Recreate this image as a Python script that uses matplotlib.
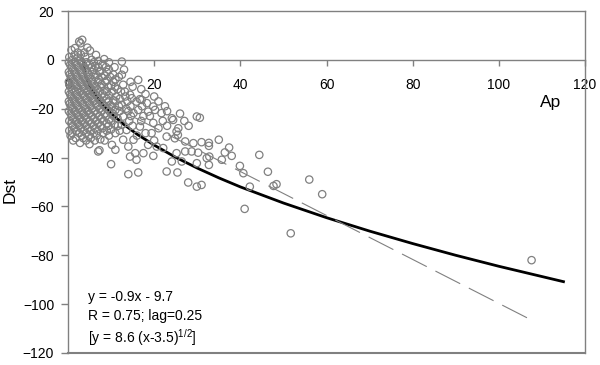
import matplotlib
matplotlib.use('Agg')
import matplotlib.pyplot as plt

plt.rcParams['font.family'] = ['Liberation Sans', 'DejaVu Sans']
plt.rcParams['mathtext.fontset'] = 'custom'
plt.rcParams['mathtext.rm'] = 'Liberation Sans'
plt.rcParams['mathtext.it'] = 'Liberation Sans'
plt.rcParams['lines.scale_dashes'] = False

# Ap / Dst points
points = [
    (3.3, 8.2), (2.6, 7.5), (2.9, 6.8), (1.6, 4.8), (4.5, 5), (5.1, 3.8), (0.8, 4),
    (0.3, 1.1), (1.5, 2), (3, 2.2), (6.5, 2), (8.4, 0.3), (2.2, 1), (4, 1.2),
    (1, 0), (2.8, -0.3), (5.5, 0), (7, -0.5), (12.5, -0.7),
    (0.5, -2), (2, -2), (3.5, -2), (5, -2), (6.3, -2.5), (8, -2),
    (1.2, -4), (2.7, -4), (4.2, -4), (6, -4), (7.5, -4.5), (9.5, -4),
    (0.4, -6), (1.8, -6), (3.3, -6), (4.8, -6), (6.5, -6), (8.5, -6.5), (10.5, -6), (12.5, -6.1),
    (1, -8), (2.5, -8), (4, -8), (5.5, -8), (7.2, -8), (9, -8.5), (11, -8), (16.3, -8.2),
    (0.3, -10), (1.7, -10), (3.2, -10), (4.6, -10), (6, -10), (7.8, -10), (10, -10.5), (12.8, -10.2),
    (1, -12), (2.4, -12), (3.8, -12), (5.3, -12), (6.8, -12), (8.5, -12.5), (11.5, -12), (13.2, -13),
    (0.5, -14), (2, -14), (3.4, -14), (5, -14), (6.3, -14), (8, -14), (9.5, -14.5), (14.4, -14.3),
    (1.2, -16), (2.6, -16), (4.2, -16), (5.7, -16), (7.2, -16), (9, -16), (10.5, -16.5), (12, -16),
    (14.8, -15.7), (16.7, -16.1), (17.1, -16.4),
    (0.4, -18), (1.9, -18), (3.4, -18), (5, -18), (6.5, -18), (8, -18), (9.8, -18.5), (12.5, -18.4),
    (15.9, -17.1), (18.3, -17.7),
    (1.1, -20), (2.6, -20), (4.1, -20), (5.6, -20), (7.3, -20), (9, -20), (11, -20.5), (13.5, -20),
    (16.3, -20.5), (19.8, -19.1), (20.2, -20.5),
    (0.6, -22), (2, -22), (3.5, -22), (5, -22), (6.7, -22), (8.5, -22), (10.3, -22), (12.8, -23.2),
    (15.2, -21.8), (18.6, -21.2), (21.7, -21.8),
    (1.3, -24), (2.8, -24), (4.3, -24), (6, -24), (7.7, -24), (9.5, -24.5), (11.5, -24), (24.1, -23.9),
    (29.9, -23.2), (24.4, -24.6), (19.8, -25.8),
    (0.8, -26), (2.3, -26), (3.8, -26), (5.4, -26), (7, -26), (9, -26), (10.8, -26.5), (12.5, -26.6),
    (16.7, -27.3),
    (1.5, -28), (3, -28), (4.6, -28), (6.3, -28), (8, -28), (10, -28.5), (13.6, -28.7), (25.6, -28),
    (1, -30), (2.6, -30), (4.2, -30), (6, -30), (8.2, -30), (11, -30), (19.4, -30), (25.5, -30.7),
    (25.2, -29.3),
    (1.8, -32), (3.5, -32), (5.3, -32), (7.5, -32.5), (12.8, -32.7), (15.2, -32.7), (22.9, -31.4),
    (24.8, -32.1), (27.2, -33.4), (29.1, -34.1),
    (2.8, -34), (5, -34.5), (10.2, -34.8), (18.6, -34.8), (20.6, -35.5), (14, -35.5), (22.1, -36.1),
    (7, -37.5), (7.3, -37), (11, -36.8), (17.5, -38.2), (15.6, -38.2), (25.2, -38.2), (27.2, -37.5),
    (28.7, -37.5), (30.2, -38),
    (10, -42.7), (14.4, -39.6), (15.9, -40.9), (19.8, -39.3), (24.1, -41.6), (26.4, -41.6), (29.9, -42.3),
    (14, -46.8), (16.3, -46.1), (22.9, -45.7), (25.4, -46.1), (27.9, -50.2), (29.9, -51.9),
    (30.6, -23.7), (31, -33.7), (32.7, -34), (32.7, -35.2), (35, -32.7), (37.4, -35.9), (36.4, -37.9),
    (38, -39.3), (32.2, -40.2), (32.8, -39.6), (32.7, -43), (35.7, -40.9), (39.9, -43.4), (40.7, -46.4),
    (44.4, -38.9), (46.4, -45.8), (31, -51.2),
    (42.2, -51.9), (47.7, -51.6), (48.4, -50.9), (56, -49), (59, -55), (41, -61), (51.7, -71),
    (107.6, -82),
    # denser part of the cloud near the origin
    (2.3, 3), (3.8, 3),
    (0.2, -1), (1.6, -1), (3.1, -1), (4.3, -1), (6, -1), (9.5, -1),
    (0.9, -3), (2.3, -3), (3.8, -3), (5.5, -3), (7, -3), (8.8, -3), (10.8, -3),
    (0.2, -5), (1.5, -5), (3, -5), (4.5, -5), (5.6, -5), (7.3, -5), (9, -5),
    (0.7, -7), (2.1, -7), (3.6, -7), (5, -7), (6.3, -7), (7.8, -7), (9.8, -7), (11.8, -7),
    (0.2, -9), (1.4, -9), (2.9, -9), (4.3, -9), (5.6, -9), (7, -9), (8.6, -9), (10.5, -9),
    (0.6, -11), (2, -11), (3.5, -11), (4.9, -11), (6.4, -11), (7.6, -11), (9.4, -11), (10.9, -11),
    (0.2, -13), (1.5, -13), (2.9, -13), (4.4, -13), (5.8, -13), (7.3, -13), (9, -13), (10.3, -13), (12.3, -13),
    (0.7, -15), (2.2, -15), (3.8, -15), (5.2, -15), (6.8, -15), (8.4, -15), (11.2, -15), (13.3, -15),
    (0.2, -17), (1.5, -17), (3, -17), (4.6, -17), (6, -17), (7.6, -17), (9.4, -17), (11, -17), (13.8, -17),
    (0.7, -19), (2.2, -19), (3.7, -19), (5.3, -19), (6.9, -19), (8.5, -19), (10.2, -19), (11.8, -19),
    (14.5, -19), (17.2, -19),
    (0.2, -21), (1.6, -21), (3.2, -21), (4.6, -21), (6.2, -21), (7.8, -21), (9.6, -21), (12, -21), (14, -21),
    (0.9, -23), (2.4, -23), (3.9, -23), (5.5, -23), (7.2, -23), (8.8, -23), (10.6, -23), (14.6, -23),
    (17.5, -23),
    (0.3, -25), (1.8, -25), (3.3, -25), (4.9, -25), (6.5, -25), (8.2, -25), (10, -25), (14.2, -25), (22, -25),
    (1.1, -27), (2.6, -27), (4.2, -27), (5.9, -27), (7.5, -27), (9.4, -27), (11.6, -27), (15, -27),
    (0.3, -29), (2, -29), (3.6, -29), (5.2, -29), (6.9, -29), (9, -29), (12, -29),
    (0.6, -31), (3.2, -31), (4.8, -31), (6.7, -31), (9.5, -31),
    (1.2, -33), (4.2, -33), (6.2, -33), (8.5, -33),
    # middle band
    (13, -4), (14.5, -9), (15, -11), (17, -12), (18, -14), (20, -15), (21, -17), (22.5, -19),
    (23, -21), (26, -22), (27, -25), (28, -27), (21, -28), (23, -27), (18, -30), (16, -31),
    (20, -33), (17, -25), (19, -23),
]
ap = [p[0] for p in points]
dst = [p[1] for p in points]

# linear fit line (dashed), endpoints
lin_x = [0, 108]
lin_y = [-9.7, -106.9]

# square-root fit curve (solid)
curve_x = [3.5, 4, 5, 6, 8, 10, 13, 16, 20, 25, 30, 35, 40, 50, 60, 70, 80, 90, 100, 115]
curve_y = [0, -6.1, -10.5, -13.6, -18.2, -21.9, -26.5, -30.4, -34.9, -39.9, -44.3, -48.3,
           -52.0, -58.6, -64.6, -70.1, -75.2, -80.0, -84.5, -90.8]

fig = plt.figure(figsize=(6, 3.65), dpi=100)
ax = fig.add_axes([68 / 600, 1 - 353 / 365, 517 / 600, 342 / 365])

ax.plot(lin_x, lin_y, color='#808080', lw=0.8, dashes=(20, 7), zorder=3)
ax.plot(curve_x, curve_y, color='black', lw=2, zorder=2)
ax.scatter(ap, dst, s=28, facecolors='none', edgecolors='#808080', linewidths=0.9,
           clip_on=False, zorder=4)

ax.set_xlim(0, 120)
ax.set_ylim(-120, 20)
ax.set_xticks(range(0, 121, 20))
ax.set_yticks(range(-120, 21, 20))

grey = '#808080'
for s in ['top', 'right', 'left', 'bottom']:
    ax.spines[s].set_color(grey)
    ax.spines[s].set_linewidth(1)
ax.spines['bottom'].set_position(('data', 0))
ax.axhline(-120, color=grey, lw=1.5, clip_on=False)
ax.tick_params(axis='x', direction='out', length=4, width=1, color=grey, pad=9, labelsize=10)
ax.tick_params(axis='y', direction='out', length=5, width=1, color=grey, pad=5, labelsize=10)

ax.text(112, -17.5, 'Ap', fontsize=12.5, ha='center', va='center')
fig.text(10 / 600, 1 - 190 / 365, 'Dst', fontsize=12.5, rotation=90, ha='center', va='center')

ax.text(4.6, -97, 'y = -0.9x - 9.7', fontsize=10, va='center')
ax.text(4.6, -105, 'R = 0.75; lag=0.25', fontsize=10, va='center')
ax.text(4.6, -113.5, '[y = 8.6 (x-3.5)$^{1/2}$]', fontsize=10, va='center')

fig.savefig('out.png', dpi=100)
